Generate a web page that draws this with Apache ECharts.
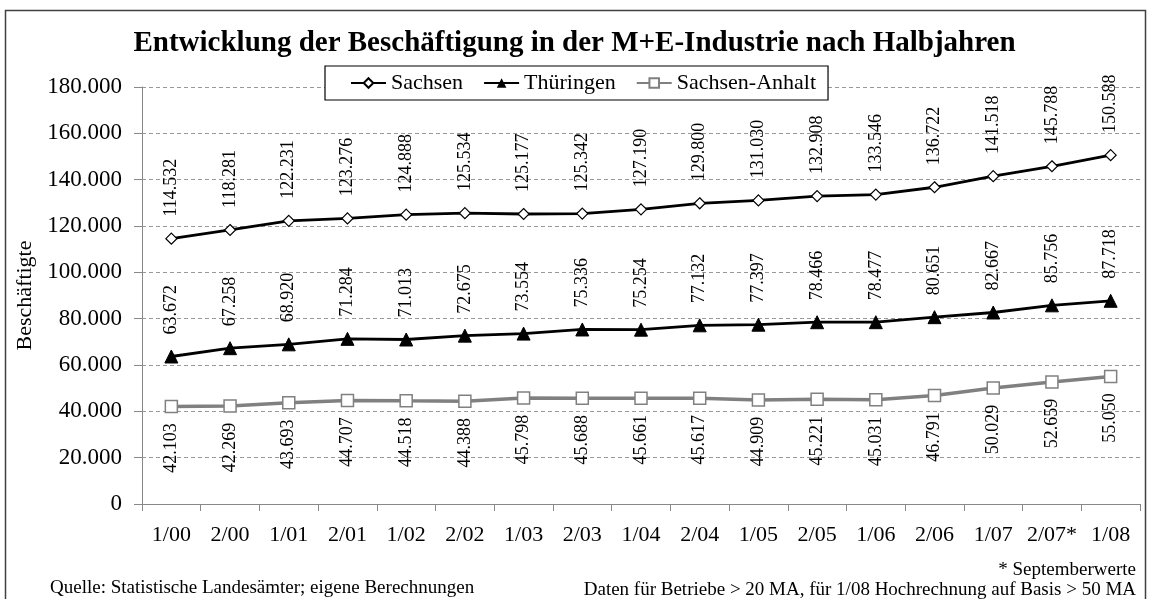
<!DOCTYPE html>
<html>
<head>
<meta charset="utf-8">
<script src="https://cdn.jsdelivr.net/npm/echarts@6/dist/echarts.min.js"></script>
<style>
html,body{margin:0;padding:0;background:#fff;}
#c{width:1149px;height:599px;}
</style>
</head>
<body>
<div id="c"></div>
<script>
const categories = ['1/00','2/00','1/01','2/01','1/02','2/02','1/03','2/03','1/04','2/04','1/05','2/05','1/06','2/06','1/07','2/07*','1/08'];
const sachsen = [114532,118281,122231,123276,124888,125534,125177,125342,127190,129800,131030,132908,133546,136722,141518,145788,150588];
const thueringen = [63672,67258,68920,71284,71013,72675,73554,75336,75254,77132,77397,78466,78477,80651,82667,85756,87718];
const sachsenAnhalt = [42103,42269,43693,44707,44518,44388,45798,45688,45661,45617,44909,45221,45031,46791,50029,52659,55050];
const yTicks = {min:0, max:180000, interval:20000};

const FONT = '"Liberation Serif", "Times New Roman", serif';
const fmt = v => v === 0 ? '0' : (v/1000).toFixed(3);

const chart = echarts.init(document.getElementById('c'));
chart.setOption({
  animation:false,
  backgroundColor:'#fff',
  textStyle:{fontFamily:FONT, color:'#000'},
  title:[
    {text:'Entwicklung der Beschäftigung in der M+E-Industrie nach Halbjahren', left:'center', top:24,
     textStyle:{fontFamily:FONT, fontWeight:'bold', fontSize:29, color:'#000'}},
    {text:'Quelle: Statistische Landesämter; eigene Berechnungen', left:50, top:579, padding:0,
     textStyle:{fontFamily:FONT, fontWeight:'normal', fontSize:19, color:'#000'}},
    {text:'* Septemberwerte', right:13, top:561, padding:0,
     textStyle:{fontFamily:FONT, fontWeight:'normal', fontSize:19, color:'#000'}},
    {text:'Daten für Betriebe > 20 MA, für 1/08 Hochrechnung auf Basis > 50 MA', right:13, top:581, padding:0,
     textStyle:{fontFamily:FONT, fontWeight:'normal', fontSize:19, color:'#000'}}
  ],
  graphic:[{type:'rect', shape:{x:5.5, y:10.5, width:1140, height:600}, style:{fill:null, stroke:'#404040', lineWidth:1.5}, silent:true}],
  legend:{
    top:66, left:325, itemGap:20, itemWidth:35, itemHeight:12,
    backgroundColor:'#fff', borderColor:'#000', borderWidth:1.2, padding:[6,12,6,25],
    textStyle:{fontFamily:FONT, fontSize:22, color:'#000'},
    data:['Sachsen','Thüringen','Sachsen-Anhalt']
  },
  grid:{left:142, right:9, top:87, bottom:95},
  xAxis:{
    type:'category', data:categories, boundaryGap:true,
    axisLine:{lineStyle:{color:'#888', width:1}},
    axisTick:{show:true, interval:0, length:7, lineStyle:{color:'#888'}},
    axisLabel:{interval:0, fontFamily:FONT, fontSize:22, color:'#000', margin:20}
  },
  yAxis:{
    type:'value', min:yTicks.min, max:yTicks.max, interval:yTicks.interval,
    name:'Beschäftigte', nameLocation:'middle', nameGap:106, nameRotate:90,
    nameTextStyle:{fontFamily:FONT, fontSize:22, color:'#000'},
    axisLine:{show:true, lineStyle:{color:'#888', width:1}},
    axisTick:{show:true, length:8, lineStyle:{color:'#888'}},
    axisLabel:{fontFamily:FONT, fontSize:23, color:'#000', margin:20, formatter:fmt},
    splitLine:{lineStyle:{color:'#999', type:[4,3], width:1}}
  },
  series:[
    {name:'Sachsen', type:'line', data:sachsen, symbol:'diamond', symbolSize:11,
     lineStyle:{color:'#000', width:2.8}, itemStyle:{color:'#fff', borderColor:'#000', borderWidth:1.2},
     label:{show:true, position:'top', distance:16, rotate:90, align:'left', verticalAlign:'middle',
            fontFamily:FONT, fontSize:18, color:'#000', formatter:p=>fmt(p.value)}, z:3},
    {name:'Thüringen', type:'line', data:thueringen, symbol:'triangle', symbolSize:13,
     lineStyle:{color:'#000', width:2.8}, itemStyle:{color:'#000', borderColor:'#000'},
     label:{show:true, position:'top', distance:15, rotate:90, align:'left', verticalAlign:'middle',
            fontFamily:FONT, fontSize:18, color:'#000', formatter:p=>fmt(p.value)}, z:3},
    {name:'Sachsen-Anhalt', type:'line', data:sachsenAnhalt, symbol:'rect', symbolSize:12,
     lineStyle:{color:'#808080', width:3.5}, itemStyle:{color:'#fff', borderColor:'#808080', borderWidth:1.5},
     label:{show:true, position:'bottom', distance:10, rotate:90, align:'right', verticalAlign:'middle',
            fontFamily:FONT, fontSize:18, color:'#000', formatter:p=>fmt(p.value)}, z:3}
  ]
});
</script>
</body>
</html>
